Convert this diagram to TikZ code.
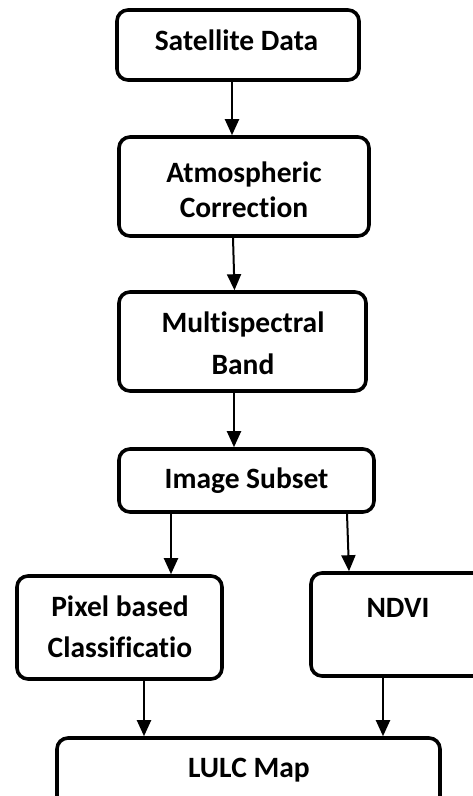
\documentclass[tikz,border=0pt]{standalone}
\usepackage{fontspec}
\setmainfont[Ligatures={NoCommon,NoRequired,NoContextual}]{Carlito}
\usetikzlibrary{arrows.meta}
\begin{document}
\begin{tikzpicture}[x=1pt,y=-1pt,
  box/.style={draw=black, line width=3.6pt, rounded corners=11pt, rectangle, inner sep=0pt, fill=white},
  lbl/.style={anchor=base, inner sep=0pt, font=\bfseries\fontsize{29.5}{35}\selectfont},
  arr/.style={line width=2pt, -{Triangle[length=16pt,width=14pt]}}]
\useasboundingbox (0,0) rectangle (473,796);
% boxes (outer extents minus line width)
\node[box, minimum width=242pt, minimum height=70pt] (sat) at (238,45) {};
\node[box, minimum width=250pt, minimum height=99pt] (atm) at (244,186.5) {};
\node[box, minimum width=247pt, minimum height=99pt] (multi) at (242.5,341.5) {};
\node[box, minimum width=255pt, minimum height=63pt] (subset) at (246.5,480.5) {};
\node[box, minimum width=205pt, minimum height=103pt] (pixel) at (119.5,627.5) {};
\node[box, minimum width=174pt, minimum height=103pt] (ndvi) at (398,624.5) {};
\node[box, minimum width=383pt, minimum height=70pt] (lulc) at (248.5,773) {};
% labels
\node[lbl] (tsat) at (236.5,50) {Satellite Data};
\node[lbl] (tatm1) at (244,182) {Atmospheric};
\node[lbl] (tatm2) at (244,217) {Correction};
\node[lbl] (tmul1) at (243,332) {Multispectral};
\node[lbl] (tmul2) at (243,374) {Band};
\node[lbl] (tsub) at (246.5,488) {Image Subset};
\node[lbl] (tpix1) at (120,616) {Pixel based};
\node[lbl] (tpix2) at (120,657) {Classificatio};
\node[lbl] (tndvi) at (398,617) {NDVI};
\node[lbl] (tlulc) at (249,777) {LULC Map};
% connectors
\draw[arr] (sat.south -| 232,0) -- (atm.north -| 232,0);
\draw[arr] (atm.south -| 233,0) -- (multi.north -| 234.5,0);
\draw[arr] (multi.south -| 234,0) -- (subset.north -| 234,0);
\draw[arr] (subset.south -| 171,0) -- (pixel.north -| 171,0);
\draw[arr] (subset.south -| 347,0) -- (ndvi.north -| 349,0);
\draw[arr] (pixel.south -| 144,0) -- (lulc.north -| 144,0);
\draw[arr] (ndvi.south -| 383,0) -- (lulc.north -| 383,0);
\end{tikzpicture}
\end{document}
